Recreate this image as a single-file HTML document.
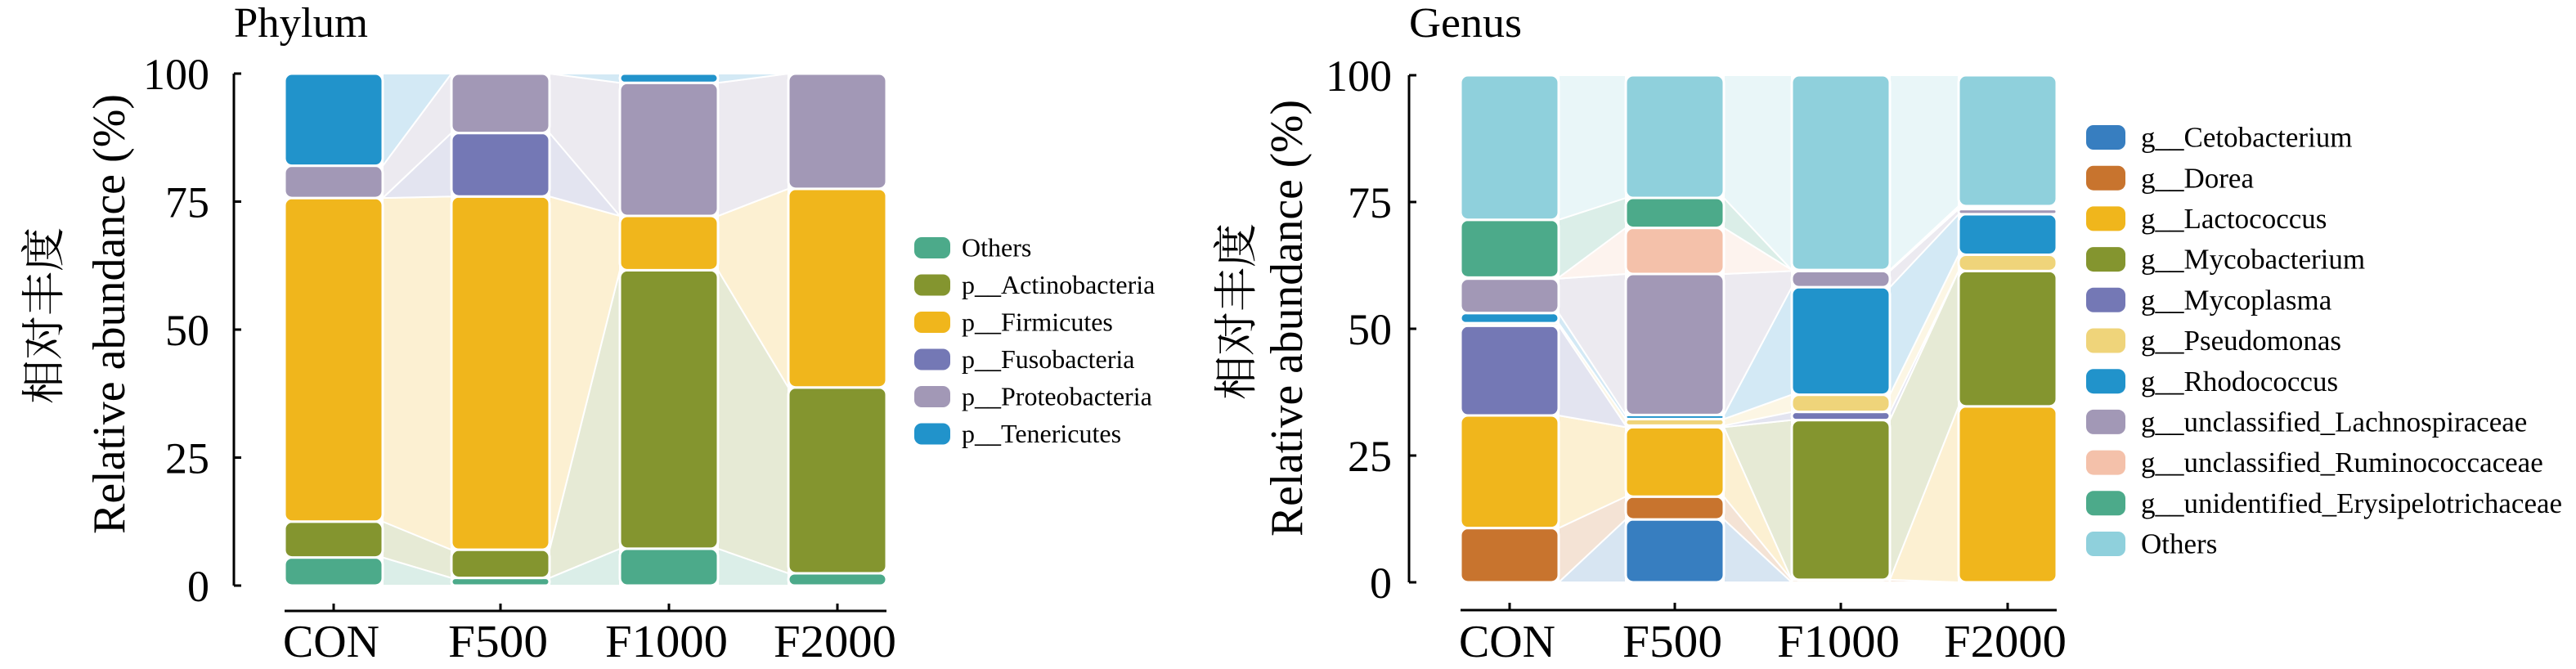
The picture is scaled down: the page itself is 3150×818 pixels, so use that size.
<!DOCTYPE html>
<html><head><meta charset="utf-8"><style>
html,body{margin:0;padding:0;background:#fff;}
svg{display:block;font-family:"Liberation Serif","Noto Serif CJK SC",serif;}
</style></head><body>
<svg id="s" width="3150" height="818" viewBox="0 0 3150 818" xmlns="http://www.w3.org/2000/svg">
<text x="286" y="45" font-size="52" textLength="164" lengthAdjust="spacingAndGlyphs">Phylum</text>
<text x="1723" y="45" font-size="52" textLength="138" lengthAdjust="spacingAndGlyphs">Genus</text>
<text transform="translate(152,384) rotate(-90)" font-size="56" text-anchor="middle" textLength="538" lengthAdjust="spacingAndGlyphs">Relative abundance (%)</text>
<text transform="translate(72,386) rotate(-90)" font-size="54" text-anchor="middle" font-family="Noto Serif CJK SC, serif">相对丰度</text>
<text transform="translate(1592,389) rotate(-90)" font-size="56" text-anchor="middle" textLength="534" lengthAdjust="spacingAndGlyphs">Relative abundance (%)</text>
<text transform="translate(1530,381) rotate(-90)" font-size="54" text-anchor="middle" font-family="Noto Serif CJK SC, serif">相对丰度</text>
<g id="g"></g>
</svg>
<script>
var NS="http://www.w3.org/2000/svg",G=document.getElementById("g");
function el(t,a,txt){var e=document.createElementNS(NS,t);for(var k in a)e.setAttribute(k,a[k]);if(txt!=null)e.textContent=txt;G.appendChild(e);return e;}
function chart(o){
 var y=function(v){return o.y0-(o.y0-o.y100)*v/100;};
 el("line",{x1:o.ax,y1:o.y100,x2:o.ax,y2:o.y0,stroke:"#000","stroke-width":3});
 [0,25,50,75,100].forEach(function(v){el("line",{x1:o.ax,y1:y(v),x2:o.ax+9,y2:y(v),stroke:"#000","stroke-width":3});
  el("text",{x:o.lx,y:y(v)+19,"font-size":54,"text-anchor":"end"},String(v));});
 var xl=o.bx[0],xr=o.bx[o.bx.length-1]+o.bw;
 el("line",{x1:xl,y1:o.xa,x2:xr,y2:o.xa,stroke:"#000","stroke-width":3});
 var stacks=o.data.map(function(d){var c=[0],s=0;d.forEach(function(v){s+=v;c.push(s);});return c;});
 for(var i=0;i<o.bx.length-1;i++){var a=stacks[i],b=stacks[i+1],x1=o.bx[i]+o.bw,x2=o.bx[i+1];
  for(var k=0;k<o.cols.length;k++){
   el("polygon",{points:x1+","+y(a[k+1])+" "+x2+","+y(b[k+1])+" "+x2+","+y(b[k])+" "+x1+","+y(a[k]),fill:o.cols[k],"fill-opacity":0.2,stroke:"#fff","stroke-width":2});}}
 o.bx.forEach(function(x,i){var c=stacks[i];
  for(var k=0;k<o.cols.length;k++){var h=y(c[k])-y(c[k+1]);if(h<=0.01)continue;
   el("rect",{x:x,y:y(c[k+1]),width:o.bw,height:h,rx:Math.min(9,h/2),fill:o.cols[k],stroke:"#fff","stroke-width":3});}
  var cx=x+o.bw/2;
  el("line",{x1:cx,y1:o.xa,x2:cx,y2:o.xa-9,stroke:"#000","stroke-width":3});
  var t=el("text",{x:cx-3,y:803,"font-size":56,"text-anchor":"middle"},o.labs[i]);
  var L={CON:118,F500:122,F1000:150,F2000:150}[o.labs[i]];
  t.setAttribute("textLength",L);t.setAttribute("lengthAdjust","spacingAndGlyphs");});
 o.leg.forEach(function(n,k){var cy=o.ly0+k*o.ls;
  el("rect",{x:o.lgx,y:cy-o.sh/2,width:o.sw,height:o.sh,rx:9,fill:o.lcols[k]});
  el("text",{x:o.ltx,y:cy+o.fs*0.33,"font-size":o.fs},n);});
}
var labs=["CON","F500","F1000","F2000"];
var pc=["#4caa8a","#84952f","#f0b61c","#7478b5","#a298b6","#2193cb"];
chart({y0:716,y100:90,ax:286,lx:256,xa:747,bx:[348,552,758,964],bw:120,labs:labs,cols:pc,
 data:[[5.5,7,63.2,0,6.3,18],[1.5,5.5,69,12.4,11.6,0],[7.2,54.4,10.6,0,26,1.8],[2.4,36.3,38.8,0,22.5,0]],
 leg:["Others","p__Actinobacteria","p__Firmicutes","p__Fusobacteria","p__Proteobacteria","p__Tenericutes"],lcols:pc,
 lgx:1118,ly0:303,ls:45.5,sw:44,sh:26,ltx:1176,fs:32});
var gc=["#377ec0","#c8742e","#f0b61c","#84952f","#7478b5","#efd47a","#2193cb","#a298b6","#f4c1aa","#4caa8a","#8fd0dc"];
chart({y0:712,y100:92,ax:1723,lx:1702,xa:746,bx:[1786,1988,2191,2395],bw:120,labs:labs,cols:gc,
 data:[[0,10.7,22.2,0,17.7,0.5,2,6.8,0.2,11.4,28.5],[12.4,4.5,13.7,0,0.3,1.3,0.8,27.8,9.1,5.9,24.2],
 [0,0.5,0,31.5,1.6,3.4,21.2,3.2,0.2,0,38.4],[0,0,34.7,26.7,0,3.2,8,1,0.3,0.3,25.8]],
 leg:["g__Cetobacterium","g__Dorea","g__Lactococcus","g__Mycobacterium","g__Mycoplasma","g__Pseudomonas","g__Rhodococcus","g__unclassified_Lachnospiraceae","g__unclassified_Ruminococcaceae","g__unidentified_Erysipelotrichaceae","Others"],lcols:gc,
 lgx:2551,ly0:168,ls:49.7,sw:48,sh:30,ltx:2618,fs:35});
</script>
</body></html>
